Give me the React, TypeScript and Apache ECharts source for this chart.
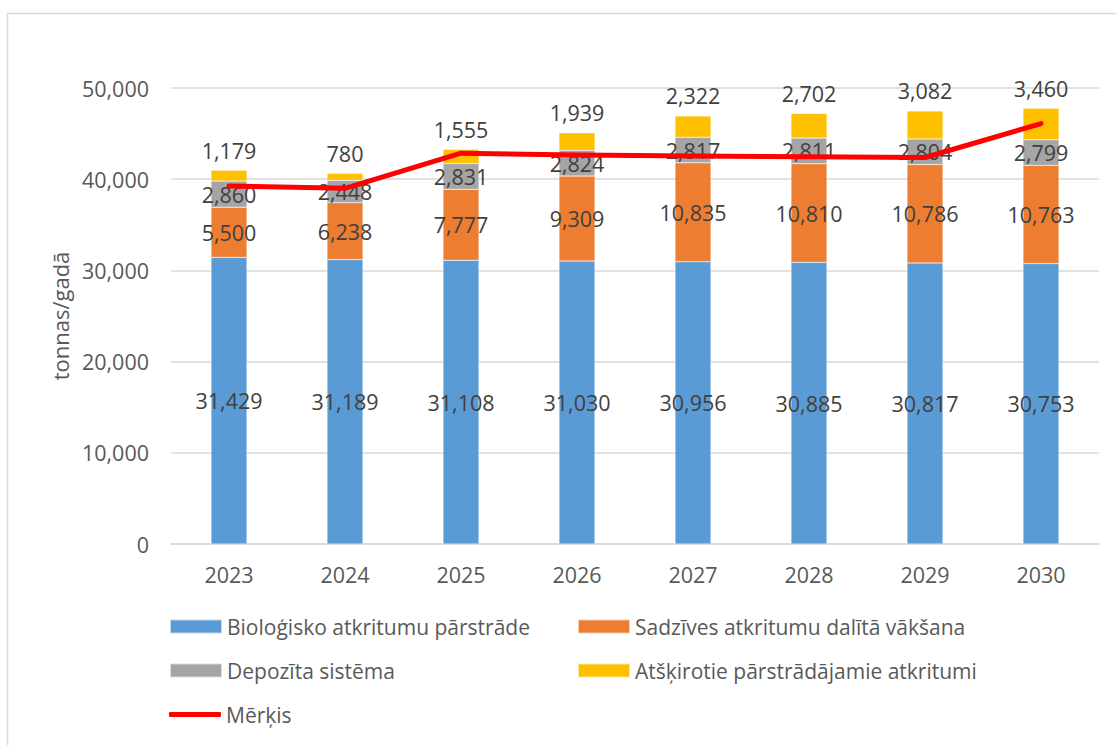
import React, { useEffect, useRef } from "react";
import * as echarts from "echarts";

const years = ["2023", "2024", "2025", "2026", "2027", "2028", "2029", "2030"];
const bio = [31429, 31189, 31108, 31030, 30956, 30885, 30817, 30753];
const sadz = [5500, 6238, 7777, 9309, 10835, 10810, 10786, 10763];
const depo = [2860, 2448, 2831, 2824, 2817, 2811, 2804, 2799];
const atsk = [1179, 780, 1555, 1939, 2322, 2702, 3082, 3460];
const merkis = [39250, 39000, 42850, 42650, 42550, 42450, 42380, 46100];

const seriesNames = [
  "Bioloģisko atkritumu pārstrāde",
  "Sadzīves atkritumu dalītā vākšana",
  "Depozīta sistēma",
  "Atšķirotie pārstrādājamie atkritumi",
  "Mērķis",
];

const FONT = "'Open Sans', 'Noto Sans', sans-serif";
const fmt = (v: number) => v.toLocaleString("en-US");

export default function App() {
  const ref = useRef<HTMLDivElement>(null);
  useEffect(() => {
    if (!ref.current) return;
    const chart = echarts.init(ref.current, null, { renderer: "svg" });
    const label = (pos: string, dist: number) => ({
      show: true,
      position: pos,
      color: "#404040",
      fontSize: 21.5,
      fontFamily: FONT,
      distance: dist,
      formatter: (p: any) => fmt(p.value),
    });
    const barCommon = {
      type: "bar",
      stack: "total",
      barWidth: 36,
      itemStyle: { borderColor: "rgba(255,255,255,0.6)", borderWidth: 0.5 },
    };
    const legendText = { color: "#595959", fontSize: 21, fontFamily: FONT, padding: [0, 0, 0, 0] };
    const legendPos: [number, number][] = [
      [169, 616],
      [577, 616],
      [169, 660],
      [577, 660],
      [169, 704],
    ];
    chart.setOption({
      animation: false,
      textStyle: { fontFamily: FONT },
      graphic: [
        {
          type: "rect",
          shape: { x: 7.5, y: 13.5, width: 1120, height: 760 },
          style: { fill: "none", stroke: "#D9D9D9", lineWidth: 1.5 },
          silent: true,
        },
      ],
      legend: legendPos.map((p, i) => ({
        data: [
          i === 4
            ? { name: seriesNames[i], icon: "roundRect" }
            : { name: seriesNames[i], icon: "rect" },
        ],
        left: p[0],
        top: p[1],
        itemWidth: 52,
        itemHeight: i === 4 ? 5 : 14,
        itemGap: 4,
        padding: 0,
        textStyle: legendText,
        selectedMode: false,
      })),
      grid: { left: 171, right: 17, top: 88, bottom: 201, containLabel: false },
      xAxis: {
        type: "category",
        data: years,
        axisLine: { lineStyle: { color: "#D9D9D9", width: 1.5 } },
        axisTick: { show: false },
        axisLabel: { color: "#595959", fontSize: 21.5, fontFamily: FONT, margin: 19 },
      },
      yAxis: {
        type: "value",
        min: 0,
        max: 50000,
        interval: 10000,
        name: "tonnas/gadā",
        nameLocation: "middle",
        nameGap: 100,
        nameTextStyle: { color: "#595959", fontSize: 22, fontFamily: FONT },
        axisLine: { show: false },
        axisTick: { show: false },
        splitLine: { lineStyle: { color: "#D9D9D9", width: 1.5 } },
        axisLabel: {
          color: "#595959",
          fontSize: 21.5,
          fontFamily: FONT,
          margin: 22,
          formatter: (v: number) => fmt(v),
        },
      },
      series: [
        { ...barCommon, name: seriesNames[0], data: bio, itemStyle: { ...barCommon.itemStyle, color: "#5B9BD5" }, label: label("inside", 0) },
        { ...barCommon, name: seriesNames[1], data: sadz, itemStyle: { ...barCommon.itemStyle, color: "#ED7D31" }, label: label("inside", 0) },
        { ...barCommon, name: seriesNames[2], data: depo, itemStyle: { ...barCommon.itemStyle, color: "#A5A5A5" }, label: label("inside", 0) },
        { ...barCommon, name: seriesNames[3], data: atsk, itemStyle: { ...barCommon.itemStyle, color: "#FFC000" }, label: label("top", 9) },
        {
          type: "line",
          name: seriesNames[4],
          data: merkis,
          symbol: "none",
          z: 5,
          lineStyle: { color: "#FF0000", width: 5, cap: "round", join: "round" },
          itemStyle: { color: "#FF0000" },
        },
      ],
    });
    return () => chart.dispose();
  }, []);
  return (
    <div
      ref={ref}
      style={{ position: "fixed", left: 0, top: 0, width: 1116, height: 745, background: "#fff" }}
    />
  );
}
